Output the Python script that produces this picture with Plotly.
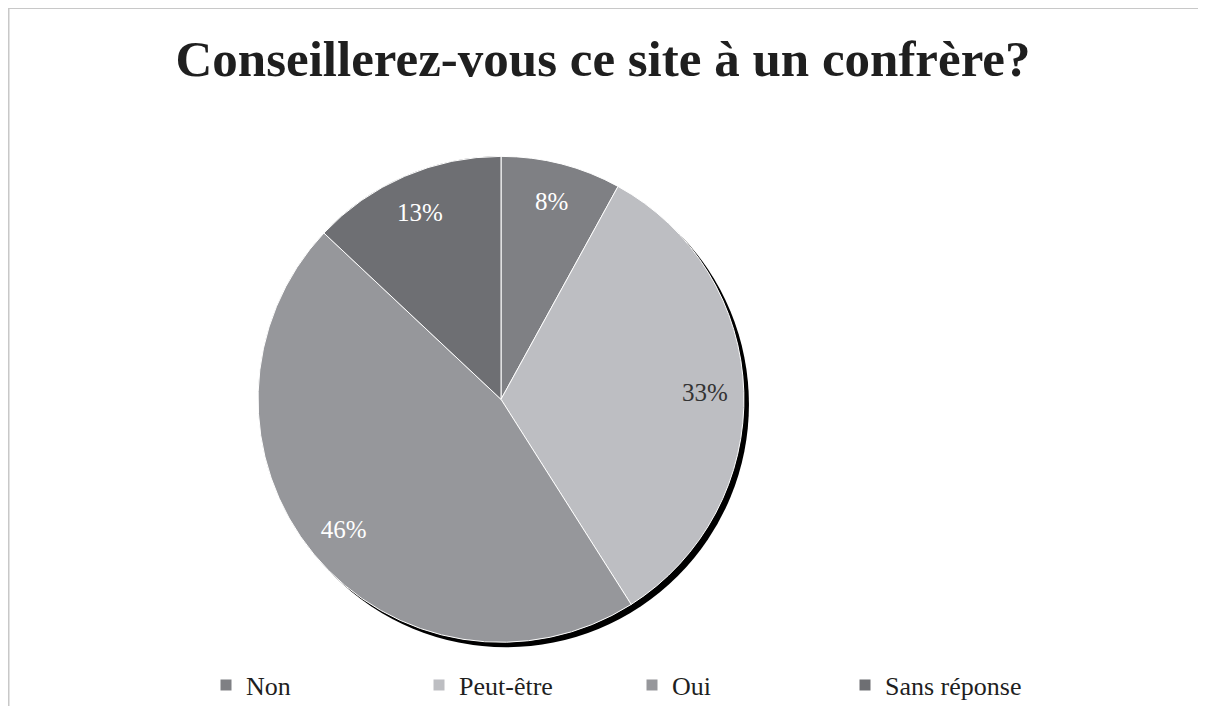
import plotly.graph_objects as go

# page body margin offsets the figure by 8px
OX, OY = 8, 8
W, H = 1206 - OX, 709 - OY

categories = ["Non", "Peut-être", "Oui", "Sans réponse"]
values = [8, 33, 46, 13]
colors = ["#7f8084", "#bdbec2", "#96979b", "#6e6f73"]
text_colors = ["#ffffff", "#333333", "#ffffff", "#ffffff"]

title_text = "Conseillerez-vous ce site à un confrère?"

# pie geometry in page pixels (center and radius)
cx, cy, r = 501 - OX, 401 - OY, 244
shadow_dx, shadow_dy = 5, 5

def dom(cx, cy, r):
    return dict(x=[(cx - r) / W, (cx + r) / W], y=[1 - (cy + r) / H, 1 - (cy - r) / H])

fig = go.Figure()

# shadow disk
fig.add_trace(go.Pie(
    labels=["shadow"], values=[1], sort=False,
    marker=dict(colors=["#000000"], line=dict(width=0)),
    textinfo="none", hoverinfo="skip", showlegend=False,
    domain=dom(cx + shadow_dx, cy + shadow_dy, r),
))

# main pie
fig.add_trace(go.Pie(
    labels=categories, values=values, sort=False, direction="clockwise", rotation=0,
    marker=dict(colors=colors, line=dict(color="#ffffff", width=1)),
    textinfo="none",
    hoverinfo="label+percent",
    domain=dom(cx, cy, r),
))

# percentage labels placed in an outer ring (like the original's label radius)
fig.add_trace(go.Pie(
    labels=categories, values=values, sort=False, direction="clockwise", rotation=0,
    hole=0.68,
    marker=dict(colors=["rgba(0,0,0,0)"] * len(values), line=dict(width=0)),
    texttemplate="%{percent:.0%}", textposition="inside",
    insidetextorientation="horizontal",
    textfont=dict(family="Liberation Serif", size=25, color=text_colors),
    hoverinfo="skip", showlegend=False,
    domain=dom(cx, cy, r),
))

fig.update_layout(
    width=W, height=H,
    margin=dict(l=0, r=0, t=0, b=0),
    paper_bgcolor="#ffffff",
    title=dict(text="<b>" + title_text + "</b>", x=(603 - OX) / W, xanchor="center",
               y=1 - (58 - OY) / H, yanchor="middle",
               font=dict(family="Liberation Serif", size=51, color="#1f1f1f")),
    legend=dict(orientation="h", x=(206 - OX) / W, xanchor="left",
                y=1 - (688 - OY) / H, yanchor="middle",
                entrywidth=168, entrywidthmode="pixels",
                font=dict(family="Liberation Serif", size=26, color="#1f1f1f"),
                traceorder="normal"),
    shapes=[
        dict(type="line", xref="paper", yref="paper", x0=0, x1=1, y0=1, y1=1,
             line=dict(color="#c8c8c8", width=2)),
        dict(type="line", xref="paper", yref="paper", x0=0, x1=0, y0=0, y1=1,
             line=dict(color="#c8c8c8", width=3)),
    ],
)

fig.write_html("out.html")
